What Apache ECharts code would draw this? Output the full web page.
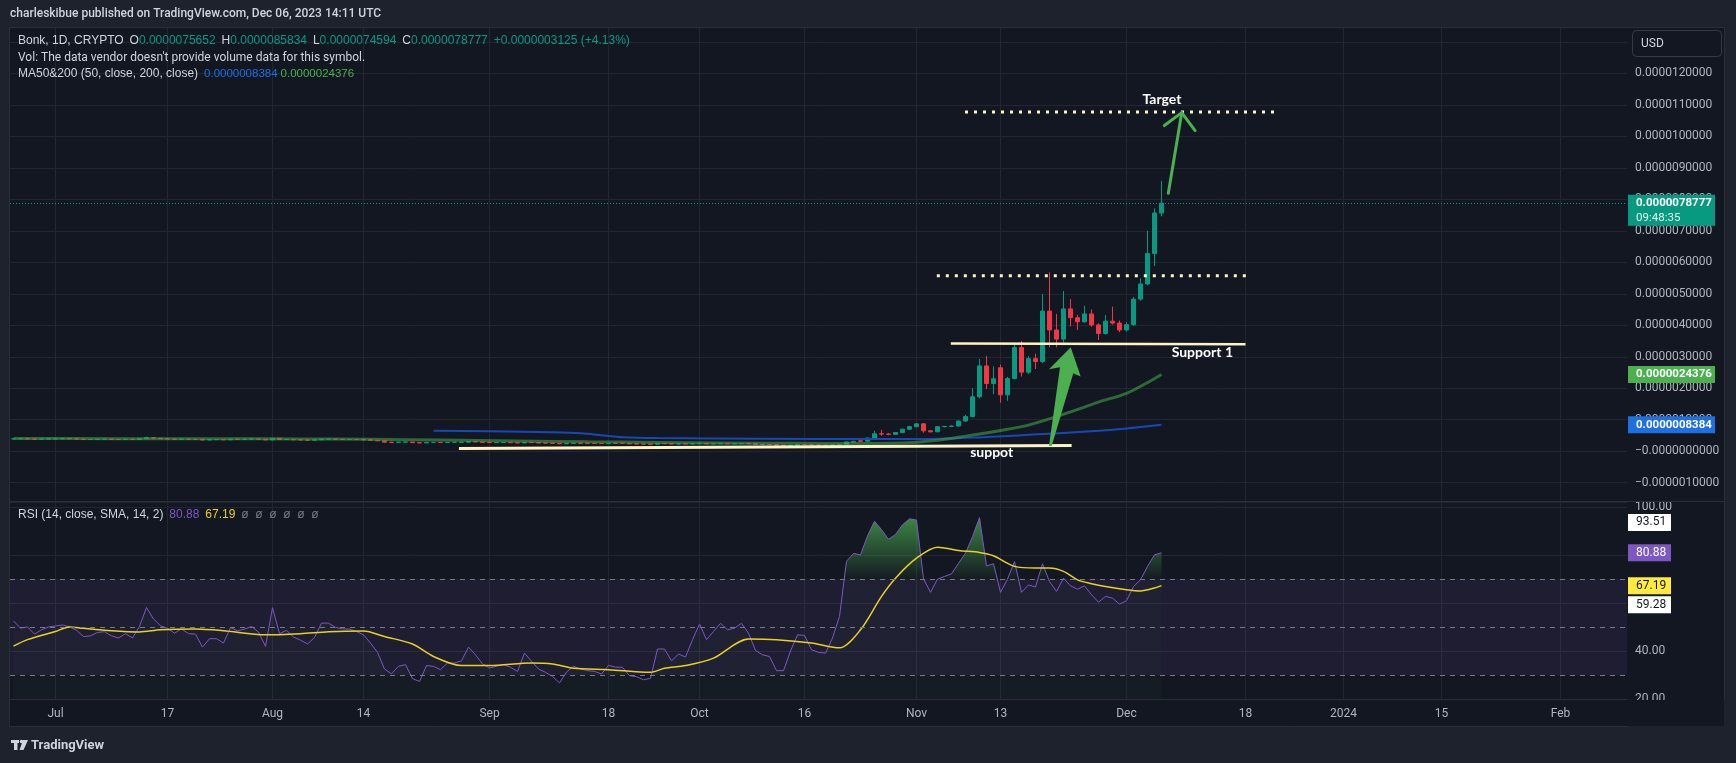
<!DOCTYPE html>
<html>
<head>
<meta charset="utf-8">
<title>Bonk 1D</title>
<script src="https://cdn.jsdelivr.net/npm/echarts@6.0.0/dist/echarts.min.js"></script>
<style>
html, body { margin: 0; padding: 0; background: #1e222d; }
#chart { width: 1736px; height: 763px; }
</style>
</head>
<body>
<div id="chart"></div>
<script>
// prices are kept in units of 0.0000001 USD
var UNIT = 1e-7;
var DAY = 86400000;

var candleStart = '2023-06-25';
// [open, close, low, high], one row per day from candleStart
var ohlc = [
  // Jun 25-30
  [3.92, 3.95, 3.85, 4.02], [3.95, 4.05, 3.92, 4.28], [4.05, 3.88, 3.84, 4.08], [3.88, 3.84, 3.70, 3.92],
  [3.84, 3.92, 3.80, 3.96], [3.92, 3.97, 3.88, 4.02],
  // Jul
  [3.97, 4.00, 3.92, 4.05], [4.00, 4.02, 3.95, 4.08], [4.02, 3.96, 3.92, 4.06], [3.96, 3.88, 3.84, 3.98],
  [3.88, 3.74, 3.70, 3.90], [3.74, 3.76, 3.68, 3.82], [3.76, 3.84, 3.72, 3.88], [3.84, 3.86, 3.80, 3.90],
  [3.86, 3.76, 3.72, 3.88], [3.76, 3.72, 3.66, 3.80], [3.72, 3.82, 3.70, 3.86], [3.82, 3.72, 3.68, 3.86],
  [3.72, 3.96, 3.70, 4.02], [3.96, 4.30, 3.92, 4.62], [4.30, 4.10, 4.02, 4.34], [4.10, 3.96, 3.92, 4.14],
  [3.96, 3.92, 3.86, 4.00], [3.92, 3.82, 3.78, 3.96], [3.82, 3.90, 3.80, 3.94], [3.90, 3.80, 3.76, 3.92],
  [3.80, 3.78, 3.74, 3.84], [3.78, 3.56, 3.52, 3.80], [3.56, 3.70, 3.54, 3.74], [3.70, 3.70, 3.64, 3.76],
  [3.70, 3.62, 3.58, 3.72], [3.62, 3.86, 3.60, 3.92], [3.86, 3.82, 3.78, 3.90], [3.82, 3.86, 3.80, 3.92],
  [3.86, 3.92, 3.84, 3.98], [3.92, 3.82, 3.78, 3.94], [3.82, 3.58, 3.54, 3.84],
  // Aug
  [3.58, 4.10, 3.55, 4.18], [4.10, 3.72, 3.68, 4.14], [3.72, 3.76, 3.68, 3.82], [3.76, 3.64, 3.60, 3.80],
  [3.64, 3.58, 3.54, 3.68], [3.58, 3.52, 3.48, 3.62], [3.52, 3.62, 3.50, 3.66], [3.62, 3.86, 3.60, 3.90],
  [3.86, 3.86, 3.80, 3.92], [3.86, 3.78, 3.74, 3.88], [3.78, 3.74, 3.70, 3.80], [3.74, 3.74, 3.70, 3.78],
  [3.74, 3.70, 3.66, 3.76], [3.70, 3.62, 3.58, 3.72], [3.62, 3.48, 3.44, 3.64], [3.48, 3.30, 3.26, 3.50],
  [3.30, 2.88, 2.70, 3.32], [2.88, 2.80, 2.74, 2.92], [2.80, 2.90, 2.78, 2.94], [2.90, 2.92, 2.86, 2.96],
  [2.92, 2.72, 2.68, 2.94], [2.72, 2.64, 2.58, 2.76], [2.64, 2.82, 2.62, 2.86], [2.82, 2.82, 2.78, 2.88],
  [2.82, 2.76, 2.72, 2.84], [2.76, 2.84, 2.74, 2.86], [2.84, 2.84, 2.80, 2.88], [2.84, 2.88, 2.80, 2.92],
  [2.88, 3.06, 2.86, 3.12], [3.06, 2.96, 2.92, 3.08], [2.96, 2.82, 2.78, 2.98],
  // Sep
  [2.82, 2.74, 2.70, 2.84], [2.74, 2.76, 2.72, 2.80], [2.76, 2.78, 2.72, 2.82], [2.78, 2.72, 2.68, 2.80],
  [2.72, 2.64, 2.60, 2.74], [2.64, 2.84, 2.62, 2.88], [2.84, 2.74, 2.70, 2.86], [2.74, 2.62, 2.58, 2.76],
  [2.62, 2.58, 2.54, 2.64], [2.58, 2.50, 2.46, 2.60], [2.50, 2.36, 2.32, 2.52], [2.36, 2.48, 2.34, 2.52],
  [2.48, 2.56, 2.46, 2.60], [2.56, 2.52, 2.48, 2.58], [2.52, 2.50, 2.46, 2.54], [2.50, 2.48, 2.44, 2.52],
  [2.48, 2.42, 2.38, 2.50], [2.42, 2.54, 2.40, 2.58], [2.54, 2.52, 2.48, 2.56], [2.52, 2.50, 2.46, 2.56],
  [2.50, 2.34, 2.30, 2.52], [2.34, 2.32, 2.28, 2.36], [2.32, 2.28, 2.24, 2.34], [2.28, 2.22, 2.18, 2.30],
  [2.22, 2.42, 2.20, 2.46], [2.42, 2.40, 2.36, 2.46], [2.40, 2.30, 2.26, 2.42], [2.30, 2.34, 2.28, 2.38],
  [2.34, 2.32, 2.28, 2.36], [2.32, 2.40, 2.30, 2.44],
  // Oct
  [2.40, 2.46, 2.36, 2.50], [2.46, 2.34, 2.30, 2.50], [2.34, 2.38, 2.32, 2.42], [2.38, 2.44, 2.36, 2.48],
  [2.44, 2.38, 2.34, 2.46], [2.38, 2.40, 2.36, 2.44], [2.40, 2.44, 2.38, 2.48], [2.44, 2.38, 2.34, 2.46],
  [2.38, 2.20, 2.16, 2.40], [2.20, 2.14, 2.10, 2.22], [2.14, 2.10, 2.06, 2.16], [2.10, 1.94, 1.90, 2.12],
  [1.94, 1.66, 1.58, 1.96], [1.66, 1.92, 1.64, 1.96], [1.92, 2.10, 1.90, 2.14], [2.10, 2.08, 2.04, 2.14],
  [2.08, 1.98, 1.94, 2.10], [1.98, 1.92, 1.88, 2.00], [1.92, 1.90, 1.86, 1.94], [1.90, 2.00, 1.88, 2.04],
  [2.00, 2.10, 1.96, 2.16], [2.10, 2.95, 2.05, 3.05], [2.95, 3.12, 2.88, 3.30], [3.30, 3.20, 3.00, 3.70],
  [3.20, 4.20, 3.10, 4.30], [4.20, 5.55, 4.00, 6.50], [5.55, 5.45, 4.90, 6.80], [5.45, 5.35, 5.10, 5.70],
  [5.35, 5.95, 5.20, 6.05], [5.95, 7.00, 5.80, 7.15], [7.00, 7.80, 6.80, 8.10],
  // Nov
  [7.80, 8.70, 7.60, 8.90], [8.70, 6.50, 5.90, 8.80], [6.50, 6.15, 6.00, 6.70], [6.15, 7.80, 6.10, 7.95],
  [7.80, 7.90, 7.60, 8.00], [7.90, 8.00, 7.70, 8.20], [8.00, 9.60, 7.90, 9.70], [9.60, 11.0, 9.30, 11.6],
  [11.0, 17.3, 10.8, 20.0], [17.3, 27.1, 16.8, 29.3], [27.1, 21.5, 19.8, 30.3], [21.5, 23.0, 18.1, 26.9],
  [26.5, 17.9, 15.4, 27.5], [17.9, 23.1, 16.0, 23.6], [23.1, 32.9, 22.8, 34.0], [32.9, 25.1, 23.7, 35.0],
  [25.1, 29.4, 24.5, 30.2], [29.4, 28.5, 26.1, 31.0], [28.5, 44.5, 28.0, 49.9], [44.5, 38.5, 33.0, 56.8],
  [38.5, 35.6, 33.0, 43.6], [35.6, 45.2, 34.6, 50.9], [45.2, 42.4, 39.6, 48.3], [42.4, 41.1, 38.5, 43.3],
  [41.1, 43.6, 40.8, 46.2], [43.6, 40.1, 39.5, 45.0], [40.1, 37.4, 35.3, 40.6], [37.4, 41.3, 37.0, 43.3],
  [41.3, 40.7, 40.2, 45.9], [40.7, 38.5, 37.8, 41.5],
  // Dec 1-6
  [38.5, 40.2, 38.0, 41.0], [40.2, 48.3, 39.8, 49.0], [48.3, 53.1, 47.8, 54.9], [53.1, 62.8, 52.7, 70.0],
  [62.8, 75.652, 58.8, 77.1], [75.652, 78.777, 74.594, 85.834]
];

// RSI(14), one value per day from candleStart
var rsi = [
  52.5, 49.5, 50, 47, 48.8, 50,
  50.4, 50.8, 50, 48.6, 46, 46.3, 47.7, 48, 46.3, 45.4, 47.2, 45.4, 50.2, 58.1, 53.3, 50.5,
  49.4, 47.4, 49.2, 47.2, 47, 41.6, 45.1, 45.1, 43.3, 49.7, 48.4, 49.1, 50.2, 47.9, 41.9,
  58, 47.2, 48.6, 45.8, 44.5, 42.9, 45.6, 51.6, 51.6, 49.8, 49.2, 49.1, 48.1, 46.7, 43.3, 39.4,
  32.5, 30.5, 33.6, 34.3, 28.5, 27.3, 33.9, 33.6, 32.2, 35, 35, 35.9, 41.6, 38.4, 34.6,
  32.9, 33.6, 34.3, 33.2, 31.5, 39.1, 35.7, 32.5, 31.1, 29.4, 26.7, 31.2, 33.6, 32.5, 31.8,
  31.5, 30.4, 34, 33.3, 33.2, 29.7, 29.3, 28, 28.6, 40.8, 40.8, 35.9, 38.7, 37.5, 44.7,
  51.2, 44.7, 48.1, 51.5, 48.8, 49.5, 51.5, 47.4, 40.2, 38.4, 37.7, 31.8, 31.8, 40, 46.7, 46.5,
  40.5, 39.4, 39.1, 45.4, 54.4, 77.3, 80.6, 80, 87.9, 94, 90.5, 86.5, 88.5, 92.5, 95,
  94.5, 70, 64.4, 69.9, 71, 72.1, 76.5, 80.7, 87.6, 95.5, 75.4, 76.3, 64.4, 69.9, 77.2,
  64.4, 67.5, 66.6, 76.3, 68.9, 64.8, 70.3, 67.1, 65.7, 67.1, 63.4, 60.3, 62.7, 62, 59.5,
  60.9, 66.8, 69.6, 75.2, 80, 80.88
];

// SMA(14) of RSI
var rsiMa = [
  ['2023-06-25', 42], ['2023-06-27', 44.7], ['2023-07-01', 48.1], ['2023-07-03', 50], ['2023-07-05', 49.4],
  ['2023-07-09', 48.4], ['2023-07-13', 47.9], ['2023-07-16', 48.8], ['2023-07-21', 49.1], ['2023-07-25', 48.4],
  ['2023-07-31', 46.7], ['2023-08-05', 47.2], ['2023-08-09', 48], ['2023-08-14', 48.3], ['2023-08-17', 46],
  ['2023-08-21', 42.9], ['2023-08-24', 37.7], ['2023-08-28', 33.9], ['2023-09-01', 33.9], ['2023-09-07', 35],
  ['2023-09-10', 34.6], ['2023-09-13', 32.8], ['2023-09-18', 32.2], ['2023-09-24', 31.1], ['2023-09-26', 32.8],
  ['2023-09-29', 33.9], ['2023-10-03', 37], ['2023-10-08', 45], ['2023-10-12', 44.7], ['2023-10-17', 43.3],
  ['2023-10-21', 41.3], ['2023-10-24', 48.8], ['2023-10-27', 62.7], ['2023-10-29', 70.3], ['2023-11-01', 78.6],
  ['2023-11-04', 83.2], ['2023-11-07', 81.8], ['2023-11-10', 81], ['2023-11-12', 79.6], ['2023-11-15', 75.2],
  ['2023-11-18', 74.5], ['2023-11-20', 74.5], ['2023-11-22', 73.1], ['2023-11-24', 69.6], ['2023-11-26', 68],
  ['2023-11-28', 66.8], ['2023-12-01', 65.5], ['2023-12-03', 65], ['2023-12-05', 66.2], ['2023-12-06', 67.19]
];

var ma50 = [
  ['2023-06-25', 4.05], ['2023-07-10', 4.0], ['2023-07-25', 3.95], ['2023-08-05', 3.9], ['2023-08-15', 3.8],
  ['2023-08-25', 3.55], ['2023-09-05', 3.25], ['2023-09-15', 3.0], ['2023-09-25', 2.8], ['2023-10-05', 2.62],
  ['2023-10-15', 2.5], ['2023-10-22', 2.45], ['2023-10-30', 2.6], ['2023-11-04', 3.5], ['2023-11-08', 4.8],
  ['2023-11-13', 6.6], ['2023-11-17', 8.3], ['2023-11-21', 11.0], ['2023-11-25', 14.0], ['2023-11-27', 15.6],
  ['2023-12-01', 18.4], ['2023-12-04', 21.8], ['2023-12-06', 24.376]
];

var ma200 = [
  ['2023-08-24', 6.5], ['2023-09-01', 6.35], ['2023-09-10', 6.0], ['2023-09-14', 5.7], ['2023-09-17', 5.1],
  ['2023-09-20', 4.45], ['2023-09-25', 4.2], ['2023-10-10', 4.0], ['2023-10-25', 3.85], ['2023-11-01', 3.85],
  ['2023-11-10', 4.4], ['2023-11-17', 5.2], ['2023-11-27', 6.5], ['2023-12-01', 7.2], ['2023-12-06', 8.384]
];

var xTicks = [
  ['2023-07-01', 'Jul'], ['2023-07-17', '17'], ['2023-08-01', 'Aug'], ['2023-08-14', '14'],
  ['2023-09-01', 'Sep'], ['2023-09-18', '18'], ['2023-10-01', 'Oct'], ['2023-10-16', '16'],
  ['2023-11-01', 'Nov'], ['2023-11-13', '13'], ['2023-12-01', 'Dec'], ['2023-12-18', '18'],
  ['2024-01-01', '2024'], ['2024-01-15', '15'], ['2024-02-01', 'Feb']
];
var priceTicks = [-10, 0, 10, 20, 30, 40, 50, 60, 70, 80, 90, 100, 110, 120, 130];

var ma200Last = 8.384;
var ma50Last = 24.376;
var rsiUpper = 93.51, rsiLower = 59.28;
var countdown = '09:48:35';

// hand drawn marks on the chart, [time, price]
var supportLow = [['2023-08-27 15:20', 0.9], ['2023-11-23 03:50', 1.8]];
var support1 = [['2023-11-05 21:40', 34.2], ['2023-12-18 00:00', 34.0]];
var resistance = [['2023-11-03 21:40', 55.75], ['2023-12-18 04:50', 55.75]];
var targetLine = [['2023-11-07 22:20', 107.7], ['2023-12-22 04:50', 107.7]];
var bigArrow = [
  ['2023-11-19 22:20', 1.7], ['2023-11-21 12:00', 26.7], ['2023-11-19 22:20', 26.0], ['2023-11-23 00:45', 33.0],
  ['2023-11-24 11:00', 23.7], ['2023-11-23 09:40', 24.8], ['2023-11-20 07:30', 1.7]
];
var targetArrow = { from: ['2023-12-06 23:20', 81.9], tip: ['2023-12-08 21:20', 107.5],
                    left: ['2023-12-06 09:40', 103.4], right: ['2023-12-10 19:10', 101.8] };
var notes = [
  ['Target', '2023-12-06 01:40', 111.8],
  ['Support 1', '2023-12-11 20:00', 31.5],
  ['suppot', '2023-11-11 17:45', -0.44]
];

function ts(s) {
  return Date.parse(s.replace(' ', 'T') + (s.length > 10 ? ':00Z' : 'T00:00:00Z'));
}
function fmtPrice(v) {
  var s = Math.abs(v * UNIT).toFixed(10);
  return v <= 0 ? '\u2212' + s : s;
}

var UP = '#089981', DOWN = '#f23645', GRID = '#232631', AXIS_TXT = '#b2b5be', PANEL = '#131722', FRAME = '#1e222d';
var startTs = ts(candleStart);
var xMin = ts('2023-06-24 12:00'), xMax = ts('2024-02-10 12:00');

var candleData = ohlc.map(function (r, i) { return [startTs + i * DAY, r[0], r[1], r[2], r[3]]; });
var rsiData = rsi.map(function (v, i) { return [startTs + i * DAY, v]; });
var toPts = function (arr) { return arr.map(function (p) { return [ts(p[0]), p[1]]; }); };
var xTickValues = xTicks.map(function (t) { return ts(t[0]); });
var xLabelMap = {};
xTicks.forEach(function (t) { xLabelMap[ts(t[0])] = t[1]; });
var last = ohlc[ohlc.length - 1];

var chart = echarts.init(document.getElementById('chart'));
var option = {
  backgroundColor: PANEL,
  animation: false,
  textStyle: { fontFamily: 'Roboto, sans-serif' },
  grid: [
    { left: 10, top: 27, width: 1617, height: 474 },
    { left: 10, top: 502, width: 1617, height: 197 }
  ],
  xAxis: [
    {
      type: 'value', gridIndex: 0, min: xMin, max: xMax,
      axisLine: { show: false },
      axisTick: { show: false, customValues: xTickValues },
      axisLabel: { show: false, customValues: xTickValues },
      splitLine: { show: true, lineStyle: { color: GRID } }
    },
    {
      type: 'value', gridIndex: 1, min: xMin, max: xMax,
      axisLine: { show: true, lineStyle: { color: '#2a2e39' } },
      axisTick: { show: false, customValues: xTickValues },
      axisLabel: {
        customValues: xTickValues, color: AXIS_TXT, fontSize: 12, margin: 9,
        formatter: function (val) { return xLabelMap[val] || ''; }
      },
      splitLine: { show: true, lineStyle: { color: GRID } }
    }
  ],
  yAxis: [
    {
      type: 'value', gridIndex: 0, position: 'right', min: -15.8, max: 134.7,
      axisLine: { show: false },
      axisTick: { show: false, customValues: priceTicks },
      axisLabel: { customValues: priceTicks, formatter: fmtPrice, color: AXIS_TXT, fontSize: 12, margin: 8 },
      splitLine: { show: true, lineStyle: { color: GRID } }
    },
    {
      type: 'value', gridIndex: 1, position: 'right', min: 20, max: 102, interval: 20,
      axisLine: { show: false },
      axisTick: { show: false },
      axisLabel: { formatter: function (v) { return v.toFixed(2); }, color: AXIS_TXT, fontSize: 12, margin: 8 },
      splitLine: { show: true, lineStyle: { color: GRID } }
    }
  ],
  visualMap: [{
    show: false, type: 'continuous', seriesIndex: 3, dimension: 1, min: 70, max: 100,
    inRange: { color: ['rgba(76,175,80,0.03)', 'rgba(76,175,80,0.85)'] },
    outOfRange: { color: 'rgba(0,0,0,0)' }
  }],
  series: [
    {
      name: 'Bonk', type: 'candlestick', xAxisIndex: 0, yAxisIndex: 0,
      data: candleData, encode: { x: 0, y: [1, 2, 3, 4] }, barWidth: 5,
      itemStyle: { color: UP, color0: DOWN, borderColor: UP, borderColor0: DOWN, borderWidth: 1 },
      markLine: {
        silent: true, symbol: 'none', label: { show: false },
        lineStyle: { color: UP, type: [1, 2], width: 1 },
        data: [{ yAxis: last[1] }]
      }
    },
    {
      name: 'MA200', type: 'line', xAxisIndex: 0, yAxisIndex: 0, data: toPts(ma200),
      showSymbol: false, smooth: 0.3, lineStyle: { color: '#1848b8', width: 2 }
    },
    {
      name: 'MA50', type: 'line', xAxisIndex: 0, yAxisIndex: 0, data: toPts(ma50),
      showSymbol: false, smooth: 0.3, lineStyle: { color: 'rgba(67,160,71,0.6)', width: 3 }
    },
    {
      name: 'RSI fill', type: 'line', xAxisIndex: 1, yAxisIndex: 1, data: rsiData,
      showSymbol: false, lineStyle: { width: 0, opacity: 0 }, areaStyle: { opacity: 1 }, silent: true
    },
    {
      name: 'RSI', type: 'line', xAxisIndex: 1, yAxisIndex: 1, data: rsiData,
      showSymbol: false, lineStyle: { color: '#7e57c2', width: 1 },
      markArea: {
        silent: true, itemStyle: { color: 'rgba(126,87,194,0.1)' },
        data: [[{ yAxis: 30 }, { yAxis: 70 }]]
      },
      markLine: {
        silent: true, symbol: 'none', label: { show: false },
        lineStyle: { color: '#787b86', type: [5, 5], width: 1 },
        data: [{ yAxis: 70 }, { yAxis: 50 }, { yAxis: 30 }]
      }
    },
    {
      name: 'RSI MA', type: 'line', xAxisIndex: 1, yAxisIndex: 1, data: toPts(rsiMa),
      showSymbol: false, smooth: 0.3, lineStyle: { color: '#e8d21d', width: 1.5 }
    }
  ]
};
chart.setOption(option);

// ----- overlay: frame, legends, price tags, drawings -----
function pt(p) { return chart.convertToPixel({ gridIndex: 0 }, [ts(p[0]), p[1]]); }
function py(v) { return chart.convertToPixel({ yAxisIndex: 0 }, v); }
function ry(v) { return chart.convertToPixel({ yAxisIndex: 1 }, v); }

var g = [];
function rect(x, y, w, h, fill, extra) {
  var o = { type: 'rect', z: 100, shape: { x: x, y: y, width: w, height: h }, style: { fill: fill } };
  if (extra) { for (var k in extra) o.style[k] = extra[k]; }
  return o;
}
function text(x, y, str, st) {
  var style = { x: x, y: y, text: str, fill: '#d1d4dc', fontSize: 12, fontFamily: 'Roboto', verticalAlign: 'middle' };
  for (var k in st) style[k] = st[k];
  return { type: 'text', z: 101, style: style };
}

// outer frame
g.push(rect(0, 0, 1736, 27, FRAME));
g.push(rect(0, 727, 1736, 36, FRAME));
g.push(rect(0, 0, 9, 763, FRAME));
g.push(rect(1725, 0, 11, 763, FRAME));
g.push({ type: 'rect', z: 100, shape: { x: 9.5, y: 27.5, width: 1715, height: 699 }, style: { fill: null, stroke: '#2a2e39', lineWidth: 1 } });
g.push({ type: 'line', z: 100, shape: { x1: 9, y1: 501.5, x2: 1725, y2: 501.5 }, style: { stroke: '#2a2e39', lineWidth: 1 } });
// corner under the price scale hides the cut 20.00 label
g.push(rect(1628, 700, 96.5, 26.5, PANEL));

// header and legends
g.push(text(10, 14, 'charleskibue published on TradingView.com, Dec 06, 2023 14:11 UTC', { fontSize: 12, fontWeight: 500, fill: '#d1d4dc' }));
var f = function (v) { return (v * UNIT).toFixed(10); };
var chg = last[1] - last[0];
g.push(text(18, 41,
  '{a|Bonk, 1D, CRYPTO}  {a|O}{v|' + f(last[0]) + '}  {a|H}{v|' + f(last[3]) + '}  {a|L}{v|' + f(last[2]) +
  '}  {a|C}{v|' + f(last[1]) + '}  {v|+' + f(chg) + ' (+' + (chg / last[0] * 100).toFixed(2) + '%)}',
  { rich: { a: { fill: '#d1d4dc', fontSize: 12 }, v: { fill: UP, fontSize: 12 } } }));
g.push(text(18, 57.5, "Vol: The data vendor doesn't provide volume data for this symbol.", {}));
g.push(text(18, 74, '{a|MA50&200 (50, close, 200, close)}  {b|' + f(ma200Last) + '} {c|' + f(ma50Last) + '}',
  { rich: { a: { fill: '#d1d4dc', fontSize: 12 }, b: { fill: '#1e6fe0', fontSize: 11.5 }, c: { fill: '#4caf50', fontSize: 11.5 } } }));
g.push(text(18, 515, '{a|RSI (14, close, SMA, 14, 2)}  {b|' + rsi[rsi.length - 1].toFixed(2) + '}  {c|' +
  rsiMa[rsiMa.length - 1][1].toFixed(2) + '}  {d|\u00f8  \u00f8  \u00f8  \u00f8  \u00f8  \u00f8}',
  { rich: { a: { fill: '#d1d4dc', fontSize: 12 }, b: { fill: '#7e57c2', fontSize: 12 }, c: { fill: '#e8d21d', fontSize: 12 }, d: { fill: '#787b86', fontSize: 12 } } }));

// USD button
g.push({ type: 'rect', z: 100, shape: { x: 1632.5, y: 30.5, width: 89, height: 26, r: 4 }, style: { fill: PANEL, stroke: '#363a45', lineWidth: 1 } });
g.push(text(1641, 44, 'USD', { fill: '#d1d4dc' }));

// price scale tags
var yl = py(last[1]);
g.push(rect(1628, yl - 8.5, 87, 31, UP));
g.push(text(1636, yl, f(last[1]), { fill: '#ffffff', fontWeight: 'bold', fontSize: 11.5 }));
g.push(text(1636, yl + 14.5, countdown, { fill: '#e6f4f1', fontSize: 11.5 }));
var y50 = py(ma50Last);
g.push(rect(1628, y50 - 8.5, 87, 17, '#4caf50'));
g.push(text(1636, y50, f(ma50Last), { fill: '#ffffff', fontWeight: 'bold', fontSize: 11.5 }));
var y200 = py(ma200Last);
g.push(rect(1628, y200 - 8.5, 87, 17, '#1e6fe0'));
g.push(text(1636, y200, f(ma200Last), { fill: '#ffffff', fontWeight: 'bold', fontSize: 11.5 }));
[[rsiUpper, '#ffffff', '#131722'], [rsi[rsi.length - 1], '#7e57c2', '#ffffff'],
 [rsiMa[rsiMa.length - 1][1], '#ffeb3b', '#131722'], [rsiLower, '#ffffff', '#131722']].forEach(function (t) {
  var y = ry(t[0]);
  g.push(rect(1628, y - 8.5, 43, 17, t[1]));
  g.push(text(1636, y, t[0].toFixed(2), { fill: t[2] }));
});

// drawings
function seg(p, w, color, dash) {
  var a = pt(p[0]), b = pt(p[1]);
  return { type: 'line', z: 90, shape: { x1: a[0], y1: a[1], x2: b[0], y2: b[1] },
           style: { stroke: color, lineWidth: w, lineDash: dash || null, lineCap: 'butt' } };
}
g.push(seg(supportLow, 3, '#fff3c4'));
g.push(seg(support1, 2.5, '#fff3c4'));
g.push(seg(resistance, 3, '#fff6c8', [3, 6]));
g.push(seg(targetLine, 3, '#fff6c8', [3, 6]));
g.push({ type: 'polygon', z: 91, shape: { points: bigArrow.map(pt) }, style: { fill: '#4caf50' } });
g.push({ type: 'polyline', z: 91, shape: { points: [pt(targetArrow.from), pt(targetArrow.tip)] },
         style: { stroke: '#4caf50', lineWidth: 3, lineCap: 'round', fill: null } });
g.push({ type: 'polyline', z: 91, shape: { points: [pt(targetArrow.left), pt(targetArrow.tip), pt(targetArrow.right)] },
         style: { stroke: '#4caf50', lineWidth: 3, lineCap: 'round', lineJoin: 'round', fill: null } });
notes.forEach(function (n) {
  var p = pt([n[1], n[2]]);
  g.push(text(p[0], p[1], n[0], { fill: '#ffffff', fontSize: 14, fontWeight: 'bold', fontFamily: 'Lato', align: 'center' }));
});

// footer logo
g.push(rect(11, 740, 8, 3, '#d1d4dc'));
g.push(rect(14, 740, 3.5, 10, '#d1d4dc'));
g.push({ type: 'circle', z: 100, shape: { cx: 21.5, cy: 741.5, r: 1.8 }, style: { fill: '#d1d4dc' } });
g.push({ type: 'polygon', z: 100, shape: { points: [[23, 740], [28, 740], [23.5, 750], [19.5, 750]] }, style: { fill: '#d1d4dc' } });
g.push(text(31, 745.5, 'TradingView', { fill: '#d1d4dc', fontSize: 13, fontWeight: 'bold' }));

chart.setOption({ graphic: { elements: g } });
</script>
</body>
</html>
